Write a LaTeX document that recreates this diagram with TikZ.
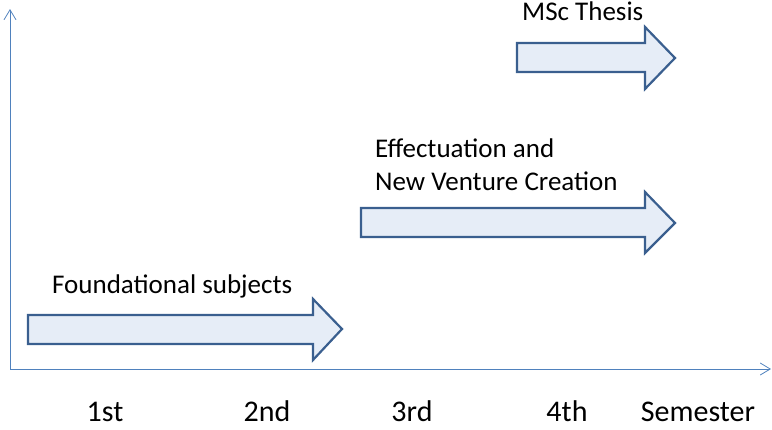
\documentclass[tikz,border=0pt]{standalone}
\usepackage{fontspec}
\setmainfont{Carlito}
\usetikzlibrary{arrows.meta, positioning}
\definecolor{caxis}{HTML}{4F81BD}
\definecolor{cfill}{HTML}{E6EDF7}
\definecolor{cline}{HTML}{3A5F8F}

\begin{document}
\begin{tikzpicture}[
  x=1pt, y=-1pt,
  font=\fontsize{27}{33}\selectfont,
  axis/.style={draw=caxis, line width=0.8pt, -{Straight Barb[length=10pt, width=12pt, line width=0.8pt]}},
  bararrow/.style={draw=cline, line width=2.2pt, fill=cfill, line join=miter},
  lbl/.style={inner sep=0pt, anchor=base west, align=left},
  sem/.style={inner sep=0pt, anchor=base, font=\fontsize{30}{36}\selectfont},
  ]
\useasboundingbox (0,0) rectangle (772,429);
% axes
\coordinate (origin) at (10,369);
\coordinate (ytop) at (10,9);
\coordinate (xend) at (771,369);
\draw[axis] (origin) -- (ytop);
\draw[axis] (origin) -- (xend);
% course blocks
\draw[bararrow] (28,315) -- (313,315) -- (313,299) -- (342,329) -- (313,360)
  -- (313,344) -- (28,344) -- cycle;
\draw[bararrow] (361,208) -- (645,208) -- (645,192) -- (675,223) -- (645,253)
  -- (645,237) -- (361,237) -- cycle;
\draw[bararrow] (517,43) -- (645,43) -- (645,27) -- (675,58) -- (645,89)
  -- (645,72) -- (517,72) -- cycle;
% labels
\node[lbl] (found) at (52,293) {Foundational subjects};
\node[lbl] (effect) at (375,157) {Effectuation and};
\node[lbl] (venture) at (375,190) {New Venture Creation};
\node[lbl] (thesis) at (522,20) {MSc Thesis};
% semesters
\node[sem] (s1) at (105,421) {1st};
\node[sem] (s2) at (267,421) {2nd};
\node[sem] (s3) at (412,421) {3rd};
\node[sem] (s4) at (567,421) {4th};
\node[sem] (s5) at (698,421) {Semester};
\end{tikzpicture}
\end{document}
